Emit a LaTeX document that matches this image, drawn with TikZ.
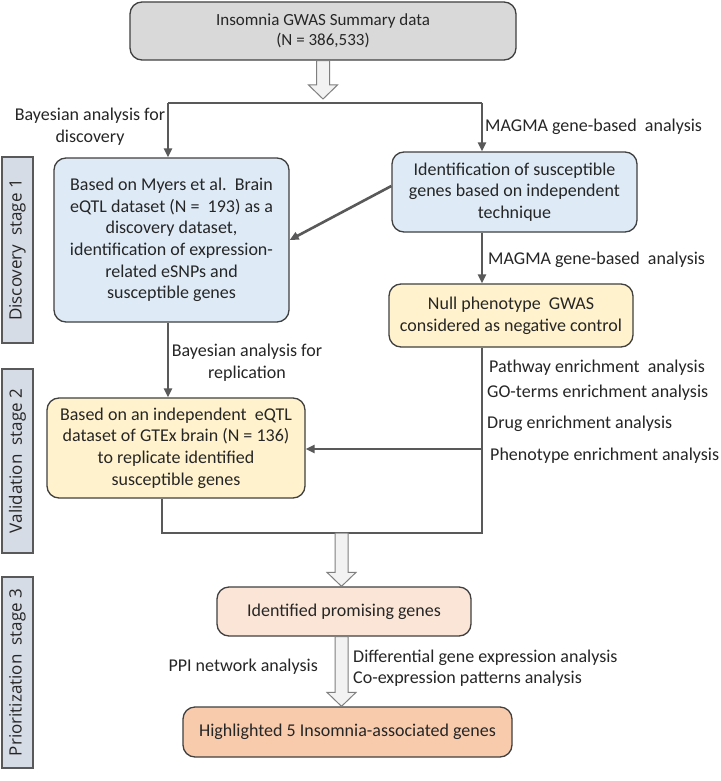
\documentclass[tikz,border=0pt]{standalone}
\usepackage{fontspec}
\setmainfont{Carlito}
\newfontfamily\stagefont{Open Sans}
\usetikzlibrary{arrows.meta,calc}
\definecolor{topfill}{HTML}{D9D9D9}
\definecolor{bluefill}{HTML}{DEEBF7}
\definecolor{yellowfill}{HTML}{FFF2CC}
\definecolor{pgfillc}{HTML}{FBE5D6}
\definecolor{hgfillc}{HTML}{F8CBAD}
\definecolor{stagefill}{HTML}{D6DCE5}
\definecolor{boxline}{HTML}{404040}
\definecolor{lineg}{HTML}{595959}
\definecolor{hollowline}{HTML}{7F7F7F}
\definecolor{hollowfill}{HTML}{F2F2F2}
\definecolor{txt}{HTML}{262626}
\newcommand\hollowdown[2]{\draw[hollow] ($(#1)+(-6.5,0)$) -- ($(#2)+(-6.5,-14)$) -- ($(#2)+(-14.5,-14)$) -- (#2) -- ($(#2)+(14.5,-14)$) -- ($(#2)+(6.5,-14)$) -- ($(#1)+(6.5,0)$) -- cycle;}
\begin{document}
\begin{tikzpicture}[x=1pt,y=-1pt,
  box/.style={draw=boxline, line width=1.3pt, rounded corners=12pt, align=center, inner sep=0pt, font=\fontsize{18pt}{21.7pt}\selectfont, text=txt},
  conn/.style={draw=lineg, line width=2.6pt, line join=miter},
  arr/.style={conn, -{Triangle[length=9pt,width=8pt]}},
  lbl/.style={font=\fontsize{18pt}{21.7pt}\selectfont, text=txt, inner sep=0pt, align=center},
  stagebox/.style={draw=lineg, fill=stagefill, line width=1.3pt, inner sep=0pt, rotate=90, minimum height=31pt, font=\stagefont\fontsize{17pt}{20pt}\selectfont, text=txt},
  hollow/.style={draw=hollowline, fill=hollowfill, line width=1pt, line join=miter}
]
\fill[white] (0,0) rectangle (720,781);
\useasboundingbox (0,0) rectangle (720,781);

% boxes
\node[box, fill=topfill, minimum width=386pt, minimum height=58pt, font=\fontsize{17pt}{20pt}\selectfont] (top) at (323,31) {Insomnia GWAS Summary data\\(N = 386,533)};
\node[box, fill=bluefill, minimum width=235pt, minimum height=164pt] (lbox) at (171.5,240) {Based on Myers et al.\ \ Brain\\eQTL dataset (N = \ 193) as a\\discovery dataset,\\identification of expression-\\related eSNPs and\\susceptible genes};
\node[box, fill=bluefill, minimum width=245pt, minimum height=80pt] (rbox) at (514.5,192) {Identification of susceptible\\genes based on independent\\technique};
\node[box, fill=yellowfill, minimum width=244pt, minimum height=63pt] (null) at (511,315.5) {Null phenotype \ GWAS\\considered as negative control};
\node[box, fill=yellowfill, minimum width=258pt, minimum height=100pt] (ybox) at (176,448) {Based on an independent \ eQTL\\dataset of GTEx brain (N = 136)\\to replicate identified\\susceptible genes};
\node[box, fill=pgfillc, minimum width=254pt, minimum height=49pt] (pg) at (344,611.5) {Identified promising genes};
\node[box, fill=hgfillc, minimum width=329pt, minimum height=50pt] (hg) at (347.5,732) {Highlighted 5 Insomnia-associated genes};

% stage boxes
\node[stagebox, minimum width=186pt] (s1) at (17.5,250) {Discovery \ stage 1};
\node[stagebox, minimum width=184pt] (s2) at (17.5,461) {Validation \ stage 2};
\node[stagebox, minimum width=191pt] (s3) at (17.5,672.5) {Prioritization \ stage 3};

% coordinates
\coordinate (tipTop) at (323,99);
\coordinate (sL) at (168,103);
\coordinate (sR) at (482,103);
\coordinate (jL) at (162,533);
\coordinate (jR) at (482,533);
\coordinate (jM) at (341.5,533);
\coordinate (enr) at (482,449);
\coordinate (t1) at (jM |- pg.north);
\coordinate (b1) at (jM |- pg.south);
\coordinate (t2) at (jM |- hg.north);
\coordinate (dA) at ($(rbox.west)+(0,-6)$);

% connectors
\hollowdown{top.south}{tipTop}
\draw[conn] (sL) -- (sR);
\draw[arr] (sL) -- (sL |- lbox.north);
\draw[arr] (sR) -- (sR |- rbox.north);
\draw[arr] (dA) -- (lbox.east);
\draw[arr] (rbox.south -| sR) -- (null.north -| sR);
\draw[arr] (lbox.south -| sL) -- (ybox.north -| sL);
\draw[conn] (null.south -| jR) -- (jR) -- (jL) -- (ybox.south -| jL);
\draw[arr] (enr) -- (enr -| ybox.east);
\hollowdown{jM}{t1}
\hollowdown{b1}{t2}

% labels
\node[lbl] (bd) at (90,127) {Bayesian analysis for\\discovery};
\node[lbl, anchor=west] (m1) at (485,127) {MAGMA gene-based \ analysis};
\node[lbl, anchor=west] (m2) at (488,260) {MAGMA gene-based \ analysis};
\node[lbl] (br) at (247,363) {Bayesian analysis for\\replication};
\node[lbl, anchor=west] (pw) at (489,368) {Pathway enrichment \ analysis};
\node[lbl, anchor=west] (go) at (487,393) {GO-terms enrichment analysis};
\node[lbl, anchor=west] (dr) at (487,424) {Drug enrichment analysis};
\node[lbl, anchor=west] (ph) at (490,456) {Phenotype enrichment analysis};
\node[lbl, anchor=east] (ppi) at (318,667) {PPI network analysis};
\node[lbl, anchor=west] (dg) at (353,658) {Differential gene expression analysis};
\node[lbl, anchor=west] (co) at (353,679) {Co-expression patterns analysis};
\end{tikzpicture}
\end{document}
